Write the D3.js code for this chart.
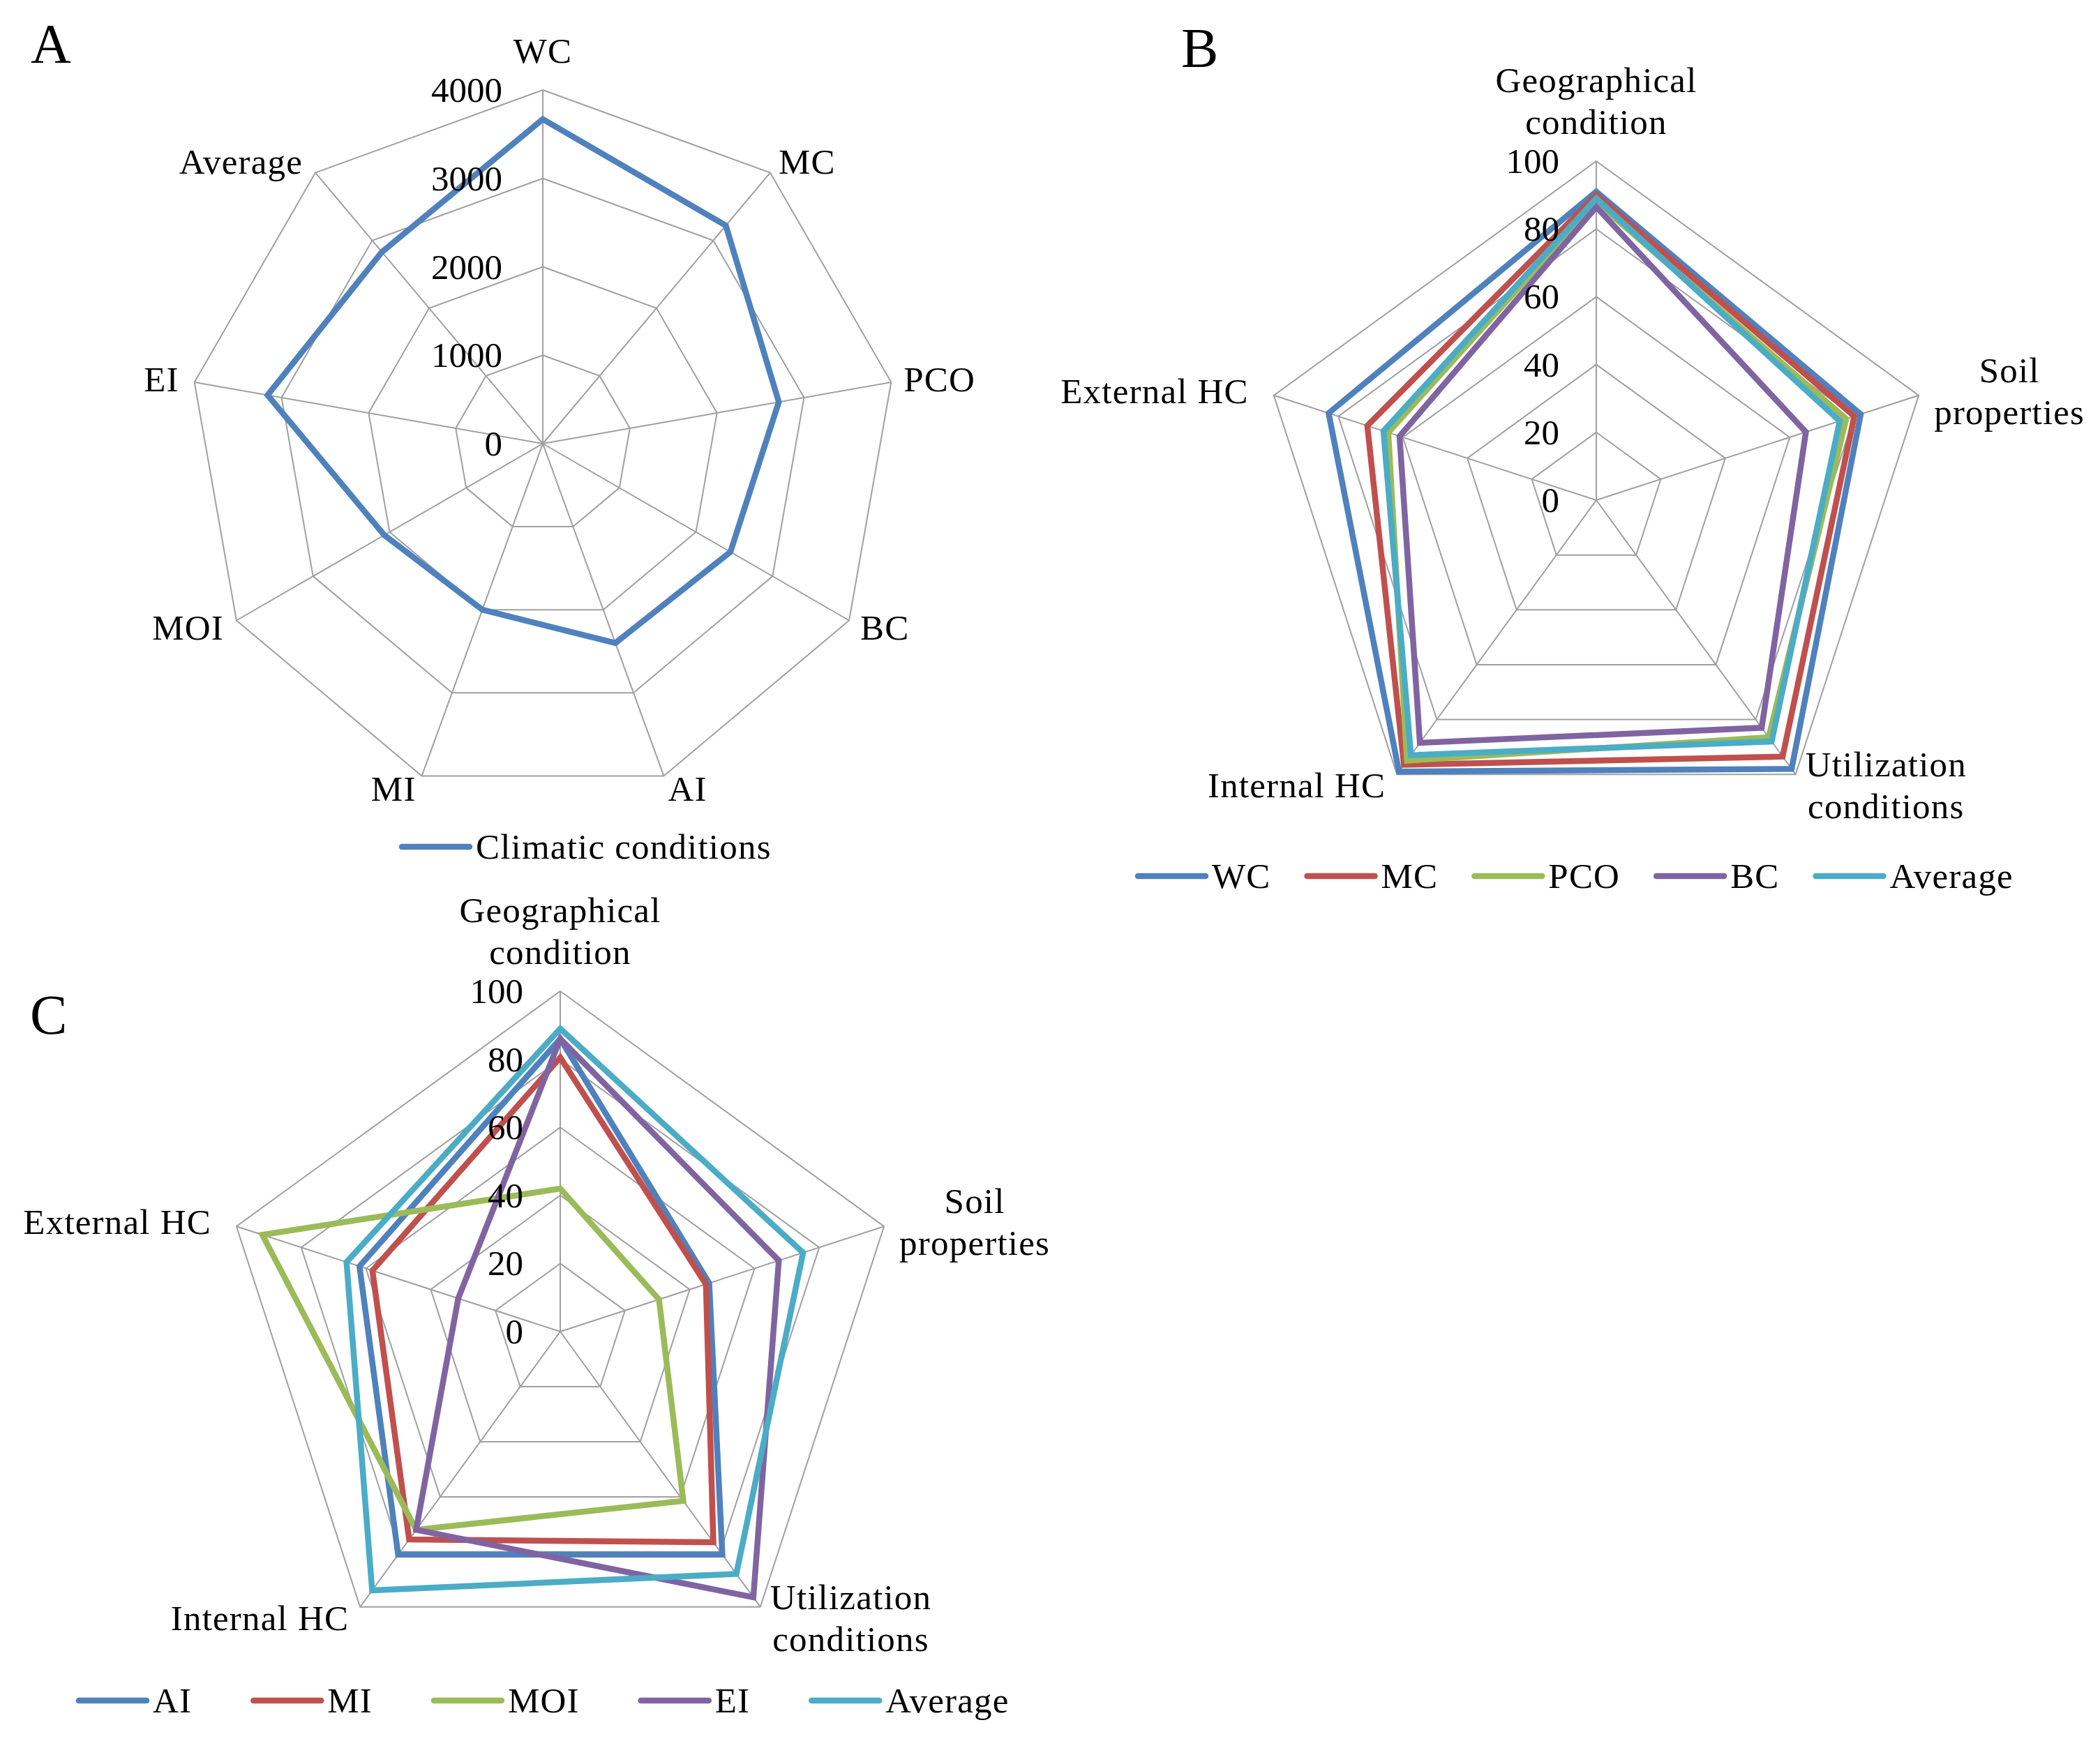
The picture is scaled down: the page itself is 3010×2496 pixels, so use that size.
<!DOCTYPE html>
<html>
<head>
<meta charset="utf-8">
<script src="https://cdn.jsdelivr.net/npm/d3@7"></script>
<style>
  body { margin: 0; background: #fff; }
  text { font-family: "Liberation Serif", "Times New Roman", serif; fill: #000; }
</style>
</head>
<body>
<div id="chart"></div>
<script>
// svg size
var width = 3010, height = 2496;

// ---- data ----------------------------------------------------------
// panel A
var axesA = ["WC", "MC", "PCO", "BC", "AI", "MI", "MOI", "EI", "Average"];
var ticksA = [0, 1000, 2000, 3000, 4000];
var climatic = [3670, 3220, 2710, 2450, 2400, 2000, 2070, 3160, 2830];

// panels B and C share the same axes
var axesBC = ["Geographical\ncondition", "Soil\nproperties", "Utilization\nconditions", "Internal HC", "External HC"];
var ticksBC = [0, 20, 40, 60, 80, 100];

// panel B
var namesB = ["WC", "MC", "PCO", "BC", "Average"];
var wcB  = [91, 82, 98, 99, 83];
var mcB  = [90, 80, 93.5, 96.5, 71];
var pcoB = [88, 77.5, 86.5, 95, 64.5];
var bcB  = [86.5, 65, 83, 88.5, 61];
var avgB = [89, 75.5, 88, 93, 66];

// panel C
var namesC = ["AI", "MI", "MOI", "EI", "Average"];
var aiC  = [86, 46, 81, 81, 62];
var miC  = [80.5, 45, 76.5, 75.5, 58];
var moiC = [42, 30.5, 61.5, 72, 92];
var eiC  = [86, 67.5, 96.5, 72, 31.5];
var avgC = [89, 75, 88, 94, 66];

var colors = ["#4F81BD", "#C0504D", "#9BBB59", "#8064A2", "#4BACC6"];

// ---- svg -----------------------------------------------------------
var svg = d3.select("#chart")
            .append("svg")
            .attr("width", width)
            .attr("height", height);

svg.append("rect").attr("width", width).attr("height", height).attr("fill", "#fff");

var fontSize = 51, lineH = 60;

function radar(opt){
    var n = opt.axes.length;
    var step = 2 * Math.PI / n;
    var r = d3.scaleLinear()
                .domain([0, opt.ticks[opt.ticks.length - 1]])
                .range([0, opt.radius]);

    var g = svg.append("g")
                .attr("transform", "translate(" + opt.cx + "," + opt.cy + ")");

    // grid rings
    var ring = d3.lineRadial()
                .angle(function(d, i){ return i * step; })
                .radius(function(d){ return r(d); })
                .curve(d3.curveLinearClosed);

    g.selectAll("path.ring")
        .data(opt.ticks.slice(1))
        .enter()
            .append("path")
            .attr("class", "ring")
            .attr("d", function(t){ return ring(d3.range(n).map(function(){ return t; })); })
            .attr("fill", "none")
            .attr("stroke", "#a0a0a0")
            .attr("stroke-width", 2);

    // spokes
    g.selectAll("line.spoke")
        .data(d3.range(n))
        .enter()
            .append("line")
            .attr("class", "spoke")
            .attr("x1", 0).attr("y1", 0)
            .attr("x2", function(i){ return opt.radius * Math.sin(i * step); })
            .attr("y2", function(i){ return -opt.radius * Math.cos(i * step); })
            .attr("stroke", "#a0a0a0")
            .attr("stroke-width", 2);

    // series
    var line = d3.lineRadial()
                .angle(function(d, i){ return i * step; })
                .radius(function(d){ return r(d); })
                .curve(d3.curveLinearClosed);

    g.selectAll("path.series")
        .data(opt.series)
        .enter()
            .append("path")
            .attr("class", "series")
            .attr("d", function(s){ return line(s.values); })
            .attr("fill", "none")
            .attr("stroke", function(s){ return s.color; })
            .attr("stroke-width", 8.5)
            .attr("stroke-linejoin", "miter");

    // tick labels
    g.selectAll("text.tick")
        .data(opt.ticks)
        .enter()
            .append("text")
            .attr("class", "tick")
            .attr("x", -opt.tickGap)
            .attr("y", function(t){ return -r(t); })
            .attr("text-anchor", "end")
            .attr("dominant-baseline", "central")
            .style("font-size", fontSize + "px")
            .text(function(t){ return t; });

    // axis labels
    opt.axes.forEach(function(name, i){
        var a = i * step;
        var sa = Math.sin(a), ca = Math.cos(a);
        var vx = opt.radius * sa, vy = -opt.radius * ca;
        var lines = name.split("\n");
        var pad = opt.labelPad[i];
        var lg = g.append("g");
        var w = 0;
        lines.forEach(function(l, k){
            var t = lg.append("text")
                        .attr("x", 0)
                        .attr("y", (k - (lines.length - 1) / 2) * lineH)
                        .attr("text-anchor", "middle")
                        .attr("dominant-baseline", "central")
                        .style("font-size", fontSize + "px")
                        .style("letter-spacing", "1.2px")
                        .text(l);
            w = Math.max(w, t.node().getComputedTextLength());
        });
        var bx, by;
        if (Math.abs(sa) < 0.1){
            bx = vx;
            by = vy - 56 - (lines.length - 1) * lineH / 2;
        }
        else{
            bx = sa > 0 ? vx + pad + w / 2 : vx - pad - w / 2;
            by = vy - ca * 20;
        }
        lg.attr("transform", "translate(" + bx + "," + by + ")");
    });

    // legend
    var x = opt.legendX;
    opt.series.forEach(function(s){
        svg.append("line")
            .attr("x1", x).attr("x2", x + 97)
            .attr("y1", opt.legendY).attr("y2", opt.legendY)
            .attr("stroke", s.color)
            .attr("stroke-width", 8.5)
            .attr("stroke-linecap", "round");
        var t = svg.append("text")
                    .attr("x", x + 106)
                    .attr("y", opt.legendY)
                    .attr("dominant-baseline", "central")
                    .style("font-size", fontSize + "px")
                    .style("letter-spacing", "1.2px")
                    .text(s.name);
        x = x + 106 + t.node().getComputedTextLength() + opt.legendGap;
    });

    // panel letter
    svg.append("text")
        .attr("x", opt.letterX)
        .attr("y", opt.letterY)
        .style("font-size", "80px")
        .text(opt.letter);
}

function makeSeries(names, vals){
    return names.map(function(nm, i){ return {name: nm, values: vals[i], color: colors[i]}; });
}

radar({
    cx: 778, cy: 636, radius: 507,
    axes: axesA, ticks: ticksA, tickGap: 58,
    labelPad: [0, 12, 18, 16, 6, 8, 18, 22, 18],
    series: [{name: "Climatic conditions", values: climatic, color: colors[0]}],
    legendX: 576, legendY: 1214, legendGap: 50,
    letter: "A", letterX: 44, letterY: 90
});

radar({
    cx: 2288, cy: 717, radius: 486,
    axes: axesBC, ticks: ticksBC, tickGap: 53,
    labelPad: [0, 22, 14, 16, 36],
    series: makeSeries(namesB, [wcB, mcB, pcoB, bcB, avgB]),
    legendX: 1631, legendY: 1256, legendGap: 52,
    letter: "B", letterX: 1693, letterY: 96
});

radar({
    cx: 803, cy: 1909, radius: 488,
    axes: axesBC, ticks: ticksBC, tickGap: 53,
    labelPad: [0, 22, 14, 16, 36],
    series: makeSeries(namesC, [aiC, miC, moiC, eiC, avgC]),
    legendX: 113, legendY: 2438, legendGap: 88,
    letter: "C", letterX: 43, letterY: 1482
});
</script>
</body>
</html>
